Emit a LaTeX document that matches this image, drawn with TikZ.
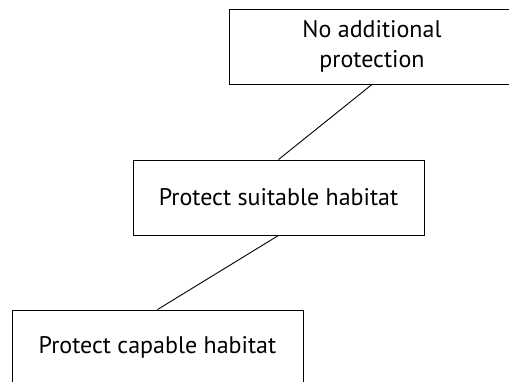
\documentclass[tikz,border=0pt]{standalone}
\usepackage{fontspec}
\setmainfont{PT Sans}
\begin{document}
\begin{tikzpicture}[x=1pt,y=-1pt]
    \tikzset{option/.style={draw, line width=0.9pt, minimum width=291pt, minimum height=75pt, inner sep=0pt, align=center, font=\fontsize{24}{30}\selectfont}}
    \useasboundingbox (0,0) rectangle (509,382);
    \node[option, minimum width=286pt] (none) at (372,46.5) {No additional\\protection};
    \node[option] (suitable) at (278.5,197.5) {Protect suitable habitat};
    \node[option] (capable) at (157.5,347.5) {Protect capable habitat};
    \draw[line width=0.9pt] (none.south) -- (suitable.north);
    \draw[line width=0.9pt] (suitable.south) -- (capable.north);
\end{tikzpicture}
\end{document}
